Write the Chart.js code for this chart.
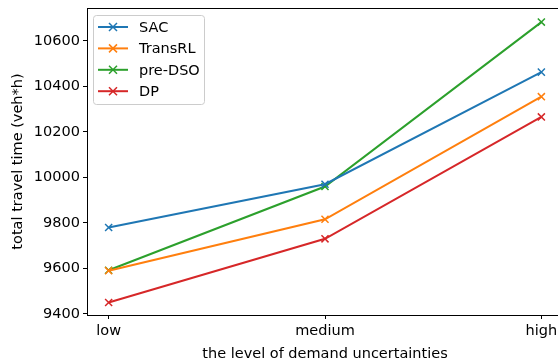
<!DOCTYPE html>
<html lang="en">
<head>
    <meta charset="UTF-8">
    <title>Total travel time vs demand uncertainty</title>
    <script src="https://cdn.jsdelivr.net/npm/chart.js@4.4.1/dist/chart.umd.min.js"></script>
    <style>
        body {
            margin: 0;
            padding: 0;
            background: #ffffff;
            overflow: hidden;
        }
        .chart-box {
            width: 570px;
            height: 361px;
        }
    </style>
</head>
<body>
    <div class="chart-box">
        <canvas id="chart"></canvas>
    </div>

    <script>
        // data
        const levels = ["low", "medium", "high"];
        const sacValues = [9780, 9970, 10463];
        const transrlValues = [9590, 9816, 10355];
        const predsoValues = [9592, 9960, 10683];
        const dpValues = [9450, 9730, 10266];
        const yTickValues = [9400, 9600, 9800, 10000, 10200, 10400, 10600];

        const seriesNames = ["SAC", "TransRL", "pre-DSO", "DP"];
        const seriesValues = [sacValues, transrlValues, predsoValues, dpValues];
        const colors = ["#1f77b4", "#ff7f0e", "#2ca02c", "#d62728"];

        const font = "DejaVu Sans";
        const fontSize = 14.5;

        // matplotlib-like legend inside the axes (upper left)
        const innerLegend = {
            id: "innerLegend",
            afterDatasetsDraw(chart) {
                const ctx = chart.ctx;
                ctx.save();
                ctx.beginPath();
                ctx.roundRect(93.5, 15.5, 111, 89, 3);
                ctx.fillStyle = "rgba(255,255,255,0.8)";
                ctx.fill();
                ctx.strokeStyle = "#cccccc";
                ctx.lineWidth = 1;
                ctx.stroke();

                chart.data.datasets.forEach(function(ds, i) {
                    const y = 27 + i * 21.4;
                    ctx.strokeStyle = ds.borderColor;
                    ctx.lineWidth = 2;
                    ctx.beginPath();
                    ctx.moveTo(98, y);
                    ctx.lineTo(128, y);
                    ctx.stroke();
                    // x marker
                    ctx.lineWidth = 1.5;
                    ctx.beginPath();
                    ctx.moveTo(113 - 4, y - 4);
                    ctx.lineTo(113 + 4, y + 4);
                    ctx.moveTo(113 - 4, y + 4);
                    ctx.lineTo(113 + 4, y - 4);
                    ctx.stroke();
                    ctx.fillStyle = "#000000";
                    ctx.font = fontSize + "px '" + font + "'";
                    ctx.textBaseline = "middle";
                    ctx.textAlign = "left";
                    ctx.fillText(ds.label, 139, y + 1);
                });
                ctx.restore();
            }
        };

        // black frame on all four sides
        const frame = {
            id: "frame",
            afterDraw(chart) {
                const a = chart.chartArea;
                const ctx = chart.ctx;
                ctx.save();
                ctx.strokeStyle = "#000000";
                ctx.lineWidth = 1;
                ctx.strokeRect(Math.round(a.left) + 0.5, Math.round(a.top) + 0.5,
                    Math.round(a.right - a.left), Math.round(a.bottom - a.top));
                ctx.restore();
            }
        };

        const datasets = seriesNames.map(function(name, i) {
            return {
                label: name,
                data: seriesValues[i].map(function(v, j) { return { x: j, y: v }; }),
                borderColor: colors[i],
                backgroundColor: colors[i],
                borderWidth: 2,
                pointStyle: "crossRot",
                pointRadius: 5,
                pointBorderWidth: 1.5,
                pointBorderColor: colors[i],
                tension: 0
            };
        });

        new Chart(document.getElementById("chart"), {
            type: "line",
            data: { datasets: datasets },
            options: {
                responsive: true,
                maintainAspectRatio: false,
                animation: false,
                layout: {
                    padding: { left: 0, right: 7, top: 8, bottom: 0 }
                },
                plugins: {
                    legend: { display: false },
                    tooltip: { enabled: false }
                },
                scales: {
                    x: {
                        type: "linear",
                        min: -0.1,
                        max: 2.1,
                        afterBuildTicks: function(scale) {
                            scale.ticks = levels.map(function(l, i) { return { value: i }; });
                        },
                        afterFit: function(scale) {
                            scale.height = 46;
                            scale.paddingLeft = 0;
                            scale.paddingRight = 0;
                        },
                        ticks: {
                            color: "#000000",
                            font: { family: font, size: fontSize },
                            padding: 4,
                            maxRotation: 0,
                            callback: function(v) { return levels[v]; }
                        },
                        grid: {
                            drawOnChartArea: false,
                            drawTicks: true,
                            tickLength: 4,
                            tickColor: "#000000"
                        },
                        border: { display: true, color: "#000000", width: 1 },
                        title: {
                            display: true,
                            text: "the level of demand uncertainties",
                            color: "#000000",
                            font: { family: font, size: fontSize },
                            padding: { top: 0, bottom: -2 }
                        }
                    },
                    y: {
                        min: 9395,
                        max: 10745,
                        afterBuildTicks: function(scale) {
                            scale.ticks = yTickValues.map(function(v) { return { value: v }; });
                        },
                        afterFit: function(scale) {
                            scale.width = 87;
                            scale.paddingTop = 0;
                            scale.paddingBottom = 0;
                        },
                        ticks: {
                            color: "#000000",
                            font: { family: font, size: fontSize },
                            padding: 3,
                            callback: function(v) { return String(v); }
                        },
                        grid: {
                            drawOnChartArea: false,
                            drawTicks: true,
                            tickLength: 4,
                            tickColor: "#000000"
                        },
                        border: { display: true, color: "#000000", width: 1 },
                        title: {
                            display: true,
                            text: "total travel time (veh*h)",
                            color: "#000000",
                            font: { family: font, size: fontSize },
                            padding: { top: 10, bottom: 0 }
                        }
                    }
                }
            },
            plugins: [innerLegend, frame]
        });
    </script>
</body>
</html>
